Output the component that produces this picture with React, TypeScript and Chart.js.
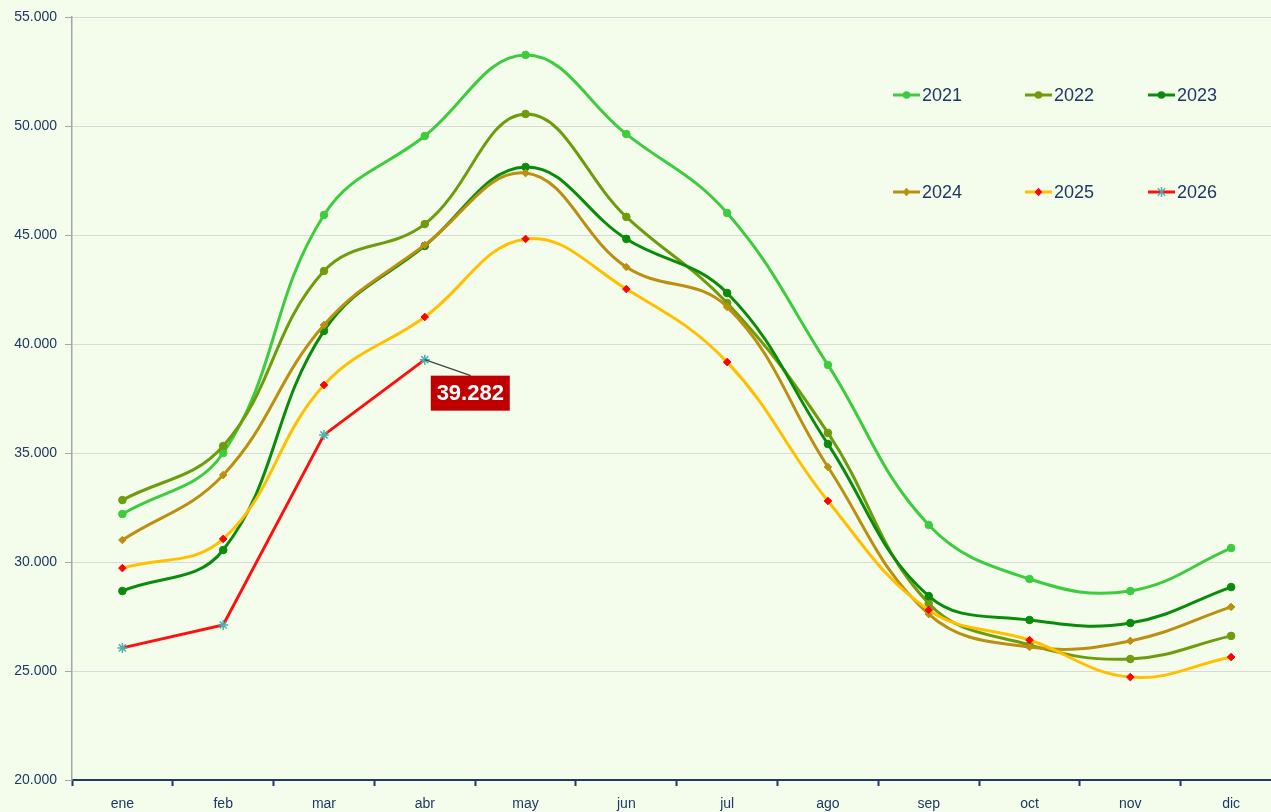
import React, { useEffect, useRef } from "react";
import { Chart, registerables } from "chart.js";

Chart.register(...registerables);

const months = ["ene", "feb", "mar", "abr", "may", "jun", "jul", "ago", "sep", "oct", "nov", "dic"];
const years = ["2021", "2022", "2023", "2024", "2025", "2026"];

const s2021 = [32200, 35000, 45920, 49540, 53260, 49630, 46010, 39040, 31700, 29220, 28670, 30640];
const s2022 = [32840, 35320, 43350, 45500, 50550, 45830, 41880, 35920, 28100, 26200, 25550, 26610];
const s2023 = [28670, 30550, 40600, 44500, 48120, 44820, 42340, 35410, 28440, 27340, 27200, 28850];
const s2024 = [31010, 33990, 40870, 44540, 47840, 43530, 41700, 34360, 27610, 26100, 26380, 27940];
const s2025 = [29720, 31060, 38120, 41240, 44820, 42520, 39170, 32800, 27800, 26420, 24720, 25640];
const s2026 = [26060, 27110, 35830, 39282, null, null, null, null, null, null, null, null];

const yTicks = [20000, 25000, 30000, 35000, 40000, 45000, 50000, 55000];
const highlightLabel = "39.282";

const NAVY = "#1F3864";
const BG = "#F4FDEB";

const fmt = (v: number) => String(v).replace(/\B(?=(\d{3})+(?!\d))/g, ".");

type Style = {
  line: string;
  point: string;
  pointBorder: string;
  shape: "circle" | "rectRot" | "star";
  radius: number;
  tension: number;
};

const styles: Style[] = [
  { line: "#3DCC3D", point: "#3DCC3D", pointBorder: "#3DCC3D", shape: "circle", radius: 3.8, tension: 0.4 },
  { line: "#6F9C0C", point: "#6F9C0C", pointBorder: "#6F9C0C", shape: "circle", radius: 3.8, tension: 0.4 },
  { line: "#0A8C0A", point: "#0A8C0A", pointBorder: "#0A8C0A", shape: "circle", radius: 3.8, tension: 0.4 },
  { line: "#BB8F10", point: "#BB8F10", pointBorder: "#BB8F10", shape: "rectRot", radius: 3.8, tension: 0.4 },
  { line: "#FFC000", point: "#FF0000", pointBorder: "#FF0000", shape: "rectRot", radius: 3.8, tension: 0.4 },
  { line: "#FF1010", point: "#4BB0B0", pointBorder: "#4BB0B0", shape: "star", radius: 5, tension: 0 },
];

const seriesList = [s2021, s2022, s2023, s2024, s2025, s2026];

function drawMarker(ctx: CanvasRenderingContext2D, st: Style, x: number, y: number) {
  ctx.save();
  ctx.fillStyle = st.point;
  ctx.strokeStyle = st.pointBorder;
  ctx.lineWidth = 1.5;
  const r = st.radius;
  if (st.shape === "circle") {
    ctx.beginPath();
    ctx.arc(x, y, r, 0, Math.PI * 2);
    ctx.fill();
  } else if (st.shape === "rectRot") {
    ctx.beginPath();
    ctx.moveTo(x, y - r - 0.5);
    ctx.lineTo(x + r, y);
    ctx.lineTo(x, y + r + 0.5);
    ctx.lineTo(x - r, y);
    ctx.closePath();
    ctx.fill();
  } else {
    ctx.beginPath();
    const d = r * 0.75;
    ctx.moveTo(x - d, y - d);
    ctx.lineTo(x + d, y + d);
    ctx.moveTo(x + d, y - d);
    ctx.lineTo(x - d, y + d);
    ctx.moveTo(x, y - r);
    ctx.lineTo(x, y + r);
    ctx.stroke();
  }
  ctx.restore();
}

const bgPlugin = {
  id: "bgFill",
  beforeDraw(chart: any) {
    const ctx = chart.ctx;
    ctx.save();
    ctx.fillStyle = BG;
    ctx.fillRect(0, 0, chart.width, chart.height);
    ctx.restore();
  },
};

const overlayPlugin = {
  id: "overlay",
  afterDraw(chart: any) {
    const ctx: CanvasRenderingContext2D = chart.ctx;
    // legend
    const cols = [893, 1025, 1148];
    const rows = [95, 192];
    years.forEach((yr, i) => {
      const x = cols[i % 3];
      const y = rows[Math.floor(i / 3)];
      const st = styles[i];
      ctx.save();
      ctx.strokeStyle = st.line;
      ctx.lineWidth = 3;
      ctx.beginPath();
      ctx.moveTo(x, y);
      ctx.lineTo(x + 27, y);
      ctx.stroke();
      ctx.restore();
      drawMarker(ctx, st, x + 13.5, y);
      ctx.save();
      ctx.fillStyle = NAVY;
      ctx.font = "18px 'Liberation Sans', Arial, sans-serif";
      ctx.textAlign = "left";
      ctx.textBaseline = "middle";
      ctx.fillText(yr, x + 29, y + 1);
      ctx.restore();
    });

    // highlight label on last 2026 value
    const meta = chart.getDatasetMeta(5);
    const pt = meta.data[3];
    if (pt) {
      const px = pt.x;
      const py = pt.y;
      ctx.save();
      ctx.strokeStyle = "#404040";
      ctx.lineWidth = 1.2;
      ctx.beginPath();
      ctx.moveTo(px, py);
      ctx.lineTo(px + 46, py + 16);
      ctx.stroke();
      ctx.fillStyle = "#C00000";
      ctx.fillRect(px + 6, py + 16, 79, 35);
      ctx.fillStyle = "#FFFFFF";
      ctx.font = "bold 22px 'Liberation Sans', Arial, sans-serif";
      ctx.textAlign = "center";
      ctx.textBaseline = "middle";
      ctx.fillText(highlightLabel, px + 45.5, py + 34.5);
      ctx.restore();
    }
  },
};

export default function App() {
  const ref = useRef<HTMLCanvasElement | null>(null);

  useEffect(() => {
    if (!ref.current) return;
    const datasets = seriesList.map((data, i) => {
      const st = styles[i];
      return {
        label: years[i],
        data,
        borderColor: st.line,
        backgroundColor: st.point,
        borderWidth: 3,
        tension: st.tension,
        pointStyle: st.shape,
        pointRadius: st.radius,
        pointBackgroundColor: st.point,
        pointBorderColor: st.pointBorder,
        pointBorderWidth: st.shape === "star" ? 1.5 : 1,
        spanGaps: false,
        fill: false,
        order: 10 - i,
      };
    });

    const chart = new Chart(ref.current, {
      type: "line",
      data: { labels: months, datasets },
      plugins: [bgPlugin, overlayPlugin],
      options: {
        animation: false,
        responsive: false,
        maintainAspectRatio: false,
        devicePixelRatio: 1,
        layout: { padding: { top: 17, right: 0, bottom: 0, left: 0 } },
        plugins: {
          legend: { display: false },
          tooltip: { enabled: false },
        },
        scales: {
          x: {
            type: "category",
            offset: true,
            grid: {
              display: true,
              drawOnChartArea: false,
              drawTicks: true,
              tickLength: 6,
              tickColor: NAVY,
              tickWidth: 2,
              offset: true,
            },
            border: { display: true, color: NAVY, width: 2 },
            ticks: {
              color: NAVY,
              font: { family: "'Liberation Sans', Arial, sans-serif", size: 14 },
              padding: 10,
              maxRotation: 0,
              autoSkip: false,
            },
            afterFit: (s: any) => {
              s.height = 32;
            },
          },
          y: {
            min: 20000,
            max: 55000,
            afterBuildTicks: (s: any) => {
              s.ticks = yTicks.map((v) => ({ value: v }));
            },
            grid: {
              color: "#D9D9D9",
              lineWidth: 1,
              drawTicks: true,
              tickLength: 7,
              tickColor: "#A6A6A6",
            },
            border: { display: true, color: "#A6A6A6", width: 1.5 },
            ticks: {
              color: NAVY,
              font: { family: "'Liberation Sans', Arial, sans-serif", size: 14 },
              padding: 8,
              callback: (v: any) => fmt(Number(v)),
            },
            afterFit: (s: any) => {
              s.width = 72;
            },
          },
        },
      },
    });
    return () => chart.destroy();
  }, []);

  return (
    <div
      style={{
        position: "fixed",
        left: 0,
        top: 0,
        width: 1271,
        height: 812,
        overflow: "hidden",
        background: BG,
      }}
    >
      <canvas ref={ref} width={1288} height={812} style={{ display: "block", width: 1288, height: 812 }} />
    </div>
  );
}
